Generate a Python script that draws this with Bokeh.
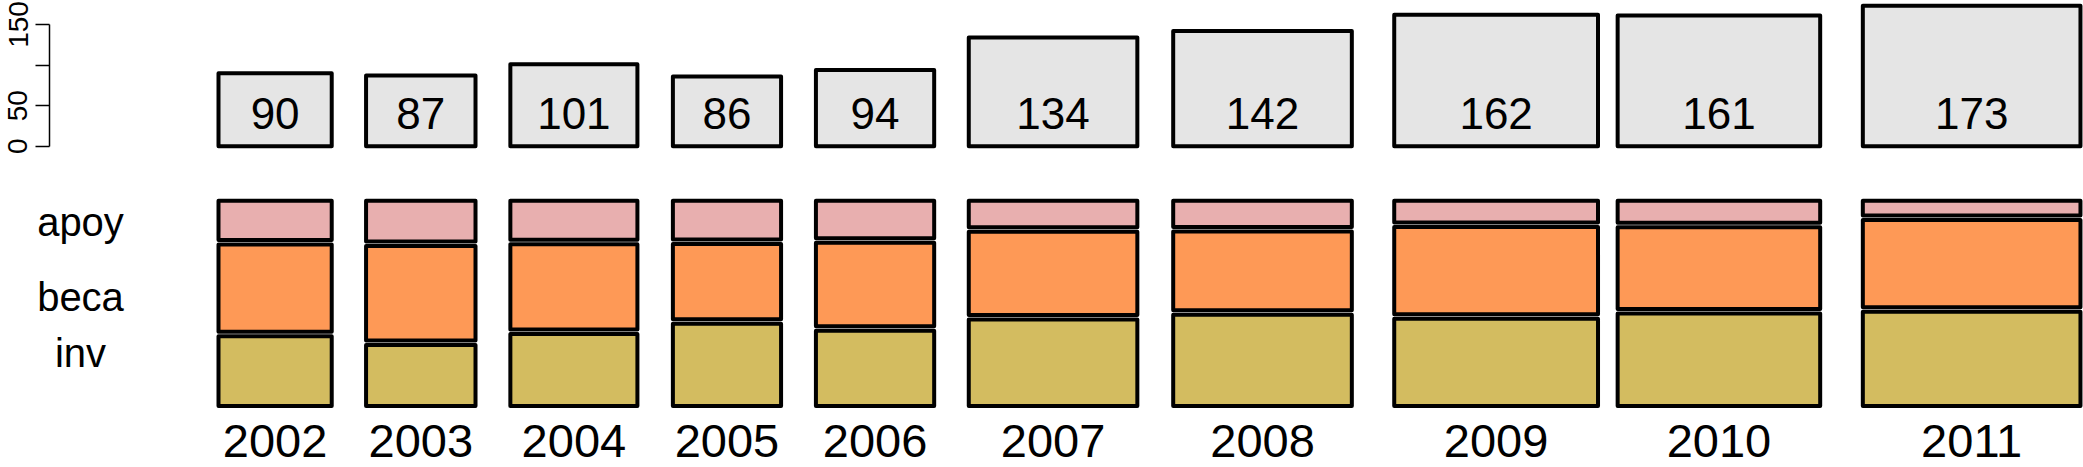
from bokeh.plotting import figure
from bokeh.layouts import column
from bokeh.models import Range1d, LinearAxis, FixedTicker, ColumnDataSource
from bokeh.core.properties import value
from bokeh.embed import file_html
from bokeh.resources import INLINE

# ---------------- data ----------------
years = ["2002", "2003", "2004", "2005", "2006", "2007", "2008", "2009", "2010", "2011"]
inv = [32, 27, 37, 36, 36, 59, 66, 72, 76, 83]
beca = [40, 42, 44, 33, 40, 57, 57, 72, 67, 77]
apoy = [18, 18, 20, 17, 18, 18, 19, 18, 18, 13]
categories = ["apoy", "beca", "inv"]
count_ticks = [0, 50, 100, 150]

# ---------------- layout (pixels, page coordinates) ----------------
W, H = 2083, 467
H_TOP = 172                 # height of the upper (count) figure
L = 49                      # count axis line
FIRST_COL_PX = 218.0        # left edge of the first column
PX_PER_UNIT = 1.258         # horizontal px per count unit
COL_GAPS = [27.3, 27.7, 28.2, 27.7, 27.5, 28.5, 33.7, 15.6, 33.9]  # gaps between columns (count units)
COUNT_ZERO_PX = 145.7
COUNT_PX_PER_UNIT = 0.8113
NUM_BASELINE_PX = 128.3
PANEL_TOP_PX = 200.3
PANEL_BOTTOM_PX = 405.5
SEG_GAP_PX = 4.5
YEAR_BASELINE_PX = 457.0
LABEL_BASELINE_PX = [235.0, 310.0, 366.7]
LABEL_X_PX = 80.0
BASELINE_SHIFT = 0.3465     # renderer places text centre on y: shift by this many em
FONT = value("Liberation Sans")
FONT_NAME = "Liberation Sans"

COL_BOX = "#E5E5E5"
COL_APOY = "#E8AFAF"
COL_BECA = "#FE9956"
COL_INV = "#D3BC60"
LW = 4.0

NUM_FS, YEAR_FS, LABEL_FS, AXIS_FS = 44, 47, 40, 28

totals = [a + b + c for a, b, c in zip(inv, beca, apoy)]
n = len(years)
lefts = []
pos = 0.0
for i, t in enumerate(totals):
    lefts.append(pos)
    pos += t + (COL_GAPS[i] if i < len(COL_GAPS) else 0)
rights = [l + t for l, t in zip(lefts, totals)]
centers = [(l + r) / 2 for l, r in zip(lefts, rights)]


def base_fig(height, xs, xe, ys, ye, left_border):
    f = figure(width=W, height=height, x_range=Range1d(xs, xe), y_range=Range1d(ys, ye),
               output_backend="svg", toolbar_location=None,
               x_axis_location=None, y_axis_location=None,
               min_border_left=left_border, min_border_right=0,
               min_border_top=0, min_border_bottom=0)
    if "frame_align" in f.properties():
        f.frame_align = False
    f.outline_line_color = None
    f.background_fill_color = "white"
    f.border_fill_color = "white"
    f.xgrid.visible = False
    f.ygrid.visible = False
    return f


# ---------------- upper figure: totals ----------------
xs_top = -(FIRST_COL_PX - L) / PX_PER_UNIT
xe_top = xs_top + (W - L) / PX_PER_UNIT
c_top = COUNT_ZERO_PX / COUNT_PX_PER_UNIT
c_bot = -(H_TOP - COUNT_ZERO_PX) / COUNT_PX_PER_UNIT
pt = base_fig(H_TOP, xs_top, xe_top, c_bot, c_top, L)

pt.quad(left=lefts, right=rights, bottom=[0] * n, top=totals,
        fill_color=COL_BOX, line_color="black", line_width=LW, line_join="round")
num_y = (COUNT_ZERO_PX - (NUM_BASELINE_PX - BASELINE_SHIFT * NUM_FS)) / COUNT_PX_PER_UNIT
pt.text(x=centers, y=[num_y] * n, text=[str(t) for t in totals],
        text_align="center", text_baseline="alphabetic",
        text_font=FONT, text_font_size=f"{NUM_FS}px", text_color="black")

ax = LinearAxis(ticker=FixedTicker(ticks=count_ticks), bounds=(0, 150),
                major_label_overrides={100: ""},
                major_tick_out=14, major_tick_in=0, minor_tick_out=0, minor_tick_in=0,
                major_label_orientation="vertical", major_label_standoff=8,
                major_label_text_font_size=f"{AXIS_FS}px", major_label_text_font=FONT_NAME,
                major_label_text_color="black",
                axis_line_color="black", axis_line_width=1.5,
                major_tick_line_color="black", major_tick_line_width=1.5)
pt.add_layout(ax, "left")

# ---------------- lower figure: proportions ----------------
H_BOT = H - H_TOP
panel_h = PANEL_BOTTOM_PX - PANEL_TOP_PX
loc_bottom = PANEL_BOTTOM_PX - H_TOP          # local y of proportion 0
xs_bot = -FIRST_COL_PX / PX_PER_UNIT
xe_bot = xs_bot + W / PX_PER_UNIT
pr_top = loc_bottom / panel_h
pr_bot = -(H_BOT - loc_bottom) / panel_h
pb = base_fig(H_BOT, xs_bot, xe_bot, pr_bot, pr_top, 0)


def prop_of(page_y):
    return (PANEL_BOTTOM_PX - page_y) / panel_h


gap_u = SEG_GAP_PX / panel_h
avail = 1 - 2 * gap_u
seg = dict(left=[], right=[], bottom=[], top=[], color=[])
for i in range(n):
    t = totals[i]
    h_inv = inv[i] / t * avail
    h_beca = beca[i] / t * avail
    h_apoy = apoy[i] / t * avail
    parts = [(0.0, h_inv, COL_INV),
             (h_inv + gap_u, h_inv + gap_u + h_beca, COL_BECA),
             (h_inv + h_beca + 2 * gap_u, h_inv + h_beca + 2 * gap_u + h_apoy, COL_APOY)]
    for bb, tt, c in parts:
        seg["left"].append(lefts[i])
        seg["right"].append(rights[i])
        seg["bottom"].append(bb)
        seg["top"].append(tt)
        seg["color"].append(c)
pb.quad(left="left", right="right", bottom="bottom", top="top", fill_color="color",
        line_color="black", line_width=LW, line_join="round", source=ColumnDataSource(seg))

year_y = prop_of(YEAR_BASELINE_PX - BASELINE_SHIFT * YEAR_FS)
pb.text(x=centers, y=[year_y] * n, text=years,
        text_align="center", text_baseline="alphabetic",
        text_font=FONT, text_font_size=f"{YEAR_FS}px", text_color="black")

label_x = xs_bot + LABEL_X_PX / PX_PER_UNIT
label_y = [prop_of(b - BASELINE_SHIFT * LABEL_FS) for b in LABEL_BASELINE_PX]
pb.text(x=[label_x] * len(categories), y=label_y, text=categories,
        text_align="center", text_baseline="alphabetic",
        text_font=FONT, text_font_size=f"{LABEL_FS}px", text_color="black")

layout = column(pt, pb, spacing=0)
open("out.html", "w").write(file_html(layout, INLINE, "mosaic"))
